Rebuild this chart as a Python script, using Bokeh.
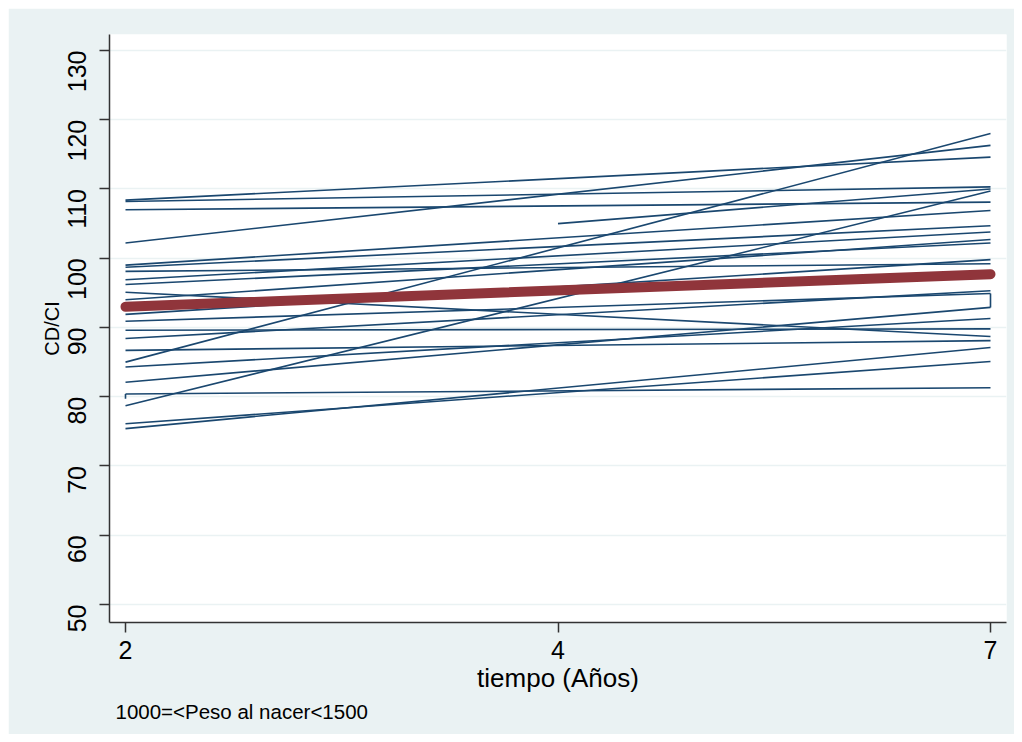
import math
from bokeh.plotting import figure
from bokeh.models import ColumnDataSource, FixedTicker, Title
from bokeh.embed import file_html
from bokeh.resources import INLINE

# ---- data ----
time_labels = ["2", "4", "7"]          # value labels of the time variable
time_pos = [1, 2, 3]                   # coded positions of the waves

# subjects observed from 2 to 7 years (CD/CI at 2 and at 7)
cdci_at_2 = [108.4, 102.2, 108.2, 107.0, 85.0, 78.7, 75.4, 76.1, 80.4,
             99.0, 98.7, 98.1, 96.9, 96.2, 95.1, 94.0, 91.9, 90.9, 89.6,
             88.4, 86.7, 84.3, 82.1]
cdci_at_7 = [114.6, 116.3, 110.3, 108.1, 118.0, 109.7, 87.1, 85.1, 81.3,
             106.9, 104.7, 99.2, 103.8, 102.2, 88.7, 102.7, 99.8, 94.9, 89.8,
             95.3, 88.1, 91.3, 92.9]

# subject observed from 4 to 7 years
late_at_4 = [105.0]
late_at_7 = [110.0]

# connecting strokes at the edges (x position label, y from, y to)
hook_time = ["7", "2"]
hook_from = [94.9, 80.4]
hook_to = [92.9, 79.7]

# mean fitted line
mean_at_2 = 93.0
mean_at_7 = 97.7

y_ticks = [50, 60, 70, 80, 90, 100, 110, 120, 130]

x_title = "tiempo (Años)"
y_title = "CD/CI"
note = "1000=<Peso al nacer<1500"

pos_of = dict(zip(time_labels, time_pos))

BG = "#EAF2F3"
NAVY = "#1A476F"
CRAN = "#90353B"
FONT = "Liberation Sans"

p = figure(width=1006, height=726, output_backend="svg", toolbar_location=None,
           x_range=(0.963, 3.037), y_range=(47.40, 132.31),
           min_border_left=101, min_border_right=8, min_border_top=26,
           min_border_bottom=112)
p.margin = (8, 8, 8, 8)
p.background_fill_color = "white"
p.border_fill_color = BG
p.outline_line_color = None

src = ColumnDataSource(dict(
    x0=[pos_of["2"]] * len(cdci_at_2) + [pos_of["4"]] * len(late_at_4),
    x1=[pos_of["7"]] * len(cdci_at_7) + [pos_of["7"]] * len(late_at_7),
    y0=cdci_at_2 + late_at_4,
    y1=cdci_at_7 + late_at_7,
))
p.segment("x0", "y0", "x1", "y1", source=src, line_color=NAVY, line_width=1.6)

hsrc = ColumnDataSource(dict(
    x=[pos_of[t] for t in hook_time], y0=hook_from, y1=hook_to))
p.segment("x", "y0", "x", "y1", source=hsrc, line_color=NAVY, line_width=1.6)

p.line([pos_of["2"], pos_of["7"]], [mean_at_2, mean_at_7], line_color=CRAN,
       line_width=10, line_cap="round")

# axes
p.xaxis.ticker = FixedTicker(ticks=time_pos)
p.xaxis.major_label_overrides = {pos: lab for pos, lab in zip(time_pos, time_labels)}
p.yaxis.ticker = FixedTicker(ticks=y_ticks)
for ax in (p.xaxis[0], p.yaxis[0]):
    ax.axis_line_color = "#333333"
    ax.axis_line_width = 1.5
    ax.major_tick_line_color = "#333333"
    ax.major_tick_line_width = 1.5
    ax.major_tick_out = 10
    ax.major_tick_in = 0
    ax.minor_tick_line_color = None
    ax.major_label_text_font = FONT
    ax.major_label_text_font_size = "25px"
    ax.major_label_text_color = "black"
    ax.axis_label_text_font = FONT
    ax.axis_label_text_font_style = "normal"
    ax.axis_label_text_color = "black"
p.xaxis.major_label_standoff = 8
p.yaxis.major_label_standoff = 22
p.yaxis.major_label_orientation = math.pi / 2

p.yaxis.axis_label = y_title
p.yaxis.axis_label_text_font_size = "20px"
p.yaxis.axis_label_standoff = -6

p.xaxis.axis_label = x_title
p.xaxis.axis_label_text_font_size = "26px"
p.xaxis.axis_label_standoff = 1

p.xgrid.grid_line_color = None
p.ygrid.ticker = FixedTicker(ticks=y_ticks)
p.ygrid.grid_line_color = BG
p.ygrid.grid_line_width = 1.5

# note below the axis
p.add_layout(Title(text=note, align="left", offset=6, standoff=4, text_font=FONT,
                   text_font_size="20.5px", text_font_style="normal",
                   text_color="black"), "below")

open("out.html", "w").write(file_html(p, INLINE))
